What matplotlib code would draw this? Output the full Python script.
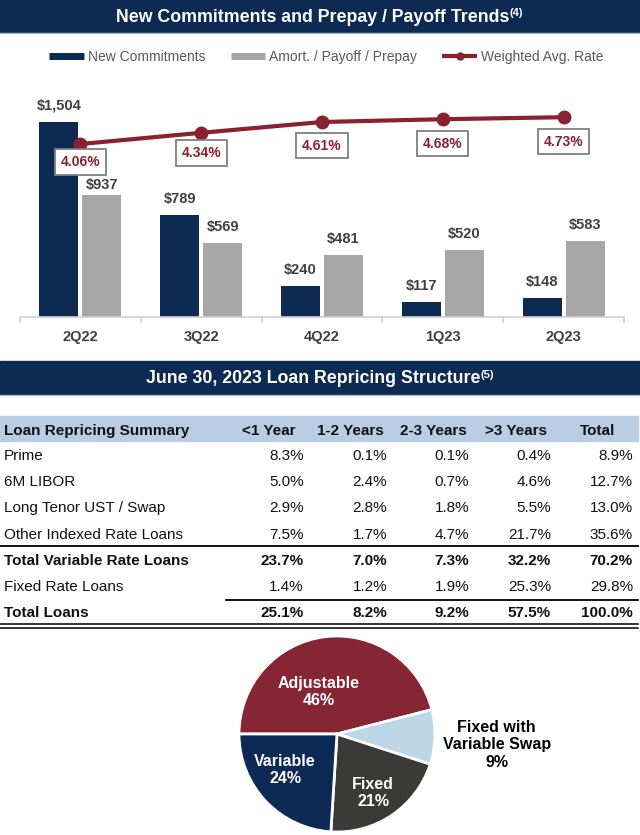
import matplotlib
matplotlib.use('Agg')
import matplotlib.pyplot as plt
from matplotlib.lines import Line2D

plt.rcParams['font.family'] = ['Liberation Sans', 'DejaVu Sans']

# colours
navy = '#0c2a52'
gray_bar = '#a6a6a6'
red = '#8a2131'
txt_dark = '#404040'

# chart data
quarters = ['2Q22', '3Q22', '4Q22', '1Q23', '2Q23']
new_commit = [1504, 789, 240, 117, 148]
amort = [937, 569, 481, 520, 583]
wavg_rate = [4.06, 4.34, 4.61, 4.68, 4.73]

# table data
col_heads = ['<1 Year', '1-2 Years', '2-3 Years', '>3 Years', 'Total']
row_names = ['Prime', '6M LIBOR', 'Long Tenor UST / Swap', 'Other Indexed Rate Loans',
             'Total Variable Rate Loans', 'Fixed Rate Loans', 'Total Loans']
prime = [8.3, 0.1, 0.1, 0.4, 8.9]
libor = [5.0, 2.4, 0.7, 4.6, 12.7]
long_tenor = [2.9, 2.8, 1.8, 5.5, 13.0]
other_idx = [7.5, 1.7, 4.7, 21.7, 35.6]
total_var = [23.7, 7.0, 7.3, 32.2, 70.2]
fixed_rate = [1.4, 1.2, 1.9, 25.3, 29.8]
total_loans = [25.1, 8.2, 9.2, 57.5, 100.0]
bold_rows = ['Total Variable Rate Loans', 'Total Loans']

# pie data
pie_labels = ['Adjustable', 'Fixed with\nVariable Swap', 'Fixed', 'Variable']
pie_values = [46, 9, 21, 24]
pie_colors = ['#862534', '#bdd6e6', '#3a3a38', '#0c2a55']

W, H = 640, 835


def rect(x0, y0, x1, y1):
    return [x0 / W, 1 - y1 / H, (x1 - x0) / W, (y1 - y0) / H]


fig = plt.figure(figsize=(6.4, 8.35), dpi=100)

# background layer in pixel coords
bg = fig.add_axes([0, 0, 1, 1])
bg.set_xlim(0, W)
bg.set_ylim(H, 0)
bg.axis('off')

# header bars
for y0, y1, title, sup in [(0, 32, 'New Commitments and Prepay / Payoff Trends', '(4)'),
                           (361, 394, 'June 30, 2023 Loan Repricing Structure', '(5)')]:
    bg.add_patch(plt.Rectangle((0, y0), W, y1 - y0, color=navy, zorder=1))
    bg.plot([0, W], [y1 + 0.5, y1 + 0.5], color='#b0b8c4', lw=1, zorder=1)
    t = bg.text(W / 2 - 7, (y0 + y1) / 2 + 1, title, color='white', fontsize=12.8,
                fontweight='bold', ha='center', va='center', zorder=2)
    bg.annotate(sup, xy=(1, 1.0), xycoords=t, ha='left', va='top', color='white',
                fontsize=8, fontweight='bold', zorder=2)

# ---- bar chart ----
ax = fig.add_axes(rect(20, 80, 624, 317))
ax.patch.set_alpha(0)
x = list(range(len(quarters)))
bw = 0.323
off = 0.178
b1 = ax.bar([i - off for i in x], new_commit, bw, color=navy, zorder=2)
b2 = ax.bar([i + off for i in x], amort, bw, color=gray_bar, zorder=2)
ax.set_xlim(-0.5, len(quarters) - 0.5)
ax.set_ylim(0, 1827)
for side in ['top', 'right', 'left']:
    ax.spines[side].set_visible(False)
ax.spines['bottom'].set_color('#d0d0d0')
ax.spines['bottom'].set_linewidth(1.2)
ax.set_yticks([])
ax.set_xticks(x)
ax.set_xticklabels(quarters, fontsize=10.5, fontweight='bold', color=txt_dark)
ax.tick_params(axis='x', which='major', length=0, pad=9)
ax.set_xticks([i - 0.5 for i in range(len(quarters) + 1)], minor=True)
ax.tick_params(axis='x', which='minor', length=4, color='#d0d0d0', width=1.2)

for i, (r, v) in enumerate(zip(b1, new_commit)):
    ax.annotate('${:,}'.format(v), (r.get_x() + r.get_width() / 2, v),
                xytext=(0, 11.5), textcoords='offset points', ha='center', va='center',
                fontsize=10.5, fontweight='bold', color=txt_dark)
for i, (r, v) in enumerate(zip(b2, amort)):
    dy = 7.5 if i == 0 else 11.5
    ax.annotate('${:,}'.format(v), (r.get_x() + r.get_width() / 2, v),
                xytext=(0, dy), textcoords='offset points', ha='center', va='center',
                fontsize=10.5, fontweight='bold', color=txt_dark)

ax2 = ax.twinx()
ax2.set_ylim(-0.265, 5.66)
ax2.axis('off')
ax2.plot(x, wavg_rate, color=red, lw=3, marker='o', markersize=9, zorder=3)
label_drop = [13, 14.5, 17, 17.5, 17.5]
for i, v in enumerate(wavg_rate):
    ax2.annotate('{:.2f}%'.format(v), (i, v), xytext=(0, -label_drop[i]),
                 textcoords='offset points', ha='center', va='center', fontsize=10,
                 fontweight='bold', color=red,
                 bbox=dict(boxstyle='square,pad=0.42', fc='white', ec='#7f7f7f', lw=1.3))

handles = [Line2D([], [], color=navy, lw=5, solid_capstyle='butt'),
           Line2D([], [], color=gray_bar, lw=5, solid_capstyle='butt'),
           Line2D([], [], color=red, lw=3, marker='o', markersize=5, solid_capstyle='butt')]
fig.legend(handles, ['New Commitments', 'Amort. / Payoff / Prepay', 'Weighted Avg. Rate'],
           loc='center', bbox_to_anchor=(0.51, 1 - 57 / H), ncol=3, frameon=False,
           fontsize=10, handlelength=2.5, handletextpad=0.3, columnspacing=1.8,
           labelcolor='#595959')

# ---- table ----
bg.add_patch(plt.Rectangle((0, 416), 638, 25, color='#b8cce4', zorder=1))
head_right = [295, 384, 467, 547, 615]
num_right = [304, 387, 469, 551, 633]
bg.text(4, 431, 'Loan Repricing Summary', fontsize=11, fontweight='bold', va='center',
        color='#111111', zorder=2)
for xr, h in zip(head_right, col_heads):
    bg.text(xr, 431, h, fontsize=11, fontweight='bold', va='center', ha='right',
            color='#111111', zorder=2)

rows = [prime, libor, long_tenor, other_idx, total_var, fixed_rate, total_loans]
for k, (name, vals) in enumerate(zip(row_names, rows)):
    y = 456 + k * 26.2
    fw = 'bold' if name in bold_rows else 'normal'
    bg.text(4, y, name, fontsize=11, fontweight=fw, va='center', color='#111111')
    for xr, v in zip(num_right, vals):
        bg.text(xr, y, '{:.1f}%'.format(v), fontsize=11, fontweight=fw, va='center',
                ha='right', color='#111111')

bg.plot([0, 638], [546, 546], color='black', lw=1.3)
bg.plot([226, 638], [599.5, 599.5], color='black', lw=1.3)
bg.plot([0, 638], [624, 624], color='black', lw=1.1)
bg.plot([0, 638], [627.5, 627.5], color='black', lw=1.1)

# ---- pie ----
pax = fig.add_axes(rect(239, 636, 435, 832))
wedges, _ = pax.pie(pie_values, colors=pie_colors, startangle=180, counterclock=False,
                    wedgeprops=dict(edgecolor='white', linewidth=2))
pax.set_xlim(-1, 1)
pax.set_ylim(-1, 1)
label_pos = [(-0.19, 0.43), (1.63, -0.11), (0.37, -0.60), (-0.53, -0.37)]
label_col = ['white', 'black', 'white', 'white']
for lab, v, (lx, ly), c in zip(pie_labels, pie_values, label_pos, label_col):
    pax.text(lx, ly, '{}\n{}%'.format(lab, v), ha='center', va='center', fontsize=11.5,
             fontweight='bold', color=c, linespacing=1.2)

fig.savefig('out.png', dpi=100)
